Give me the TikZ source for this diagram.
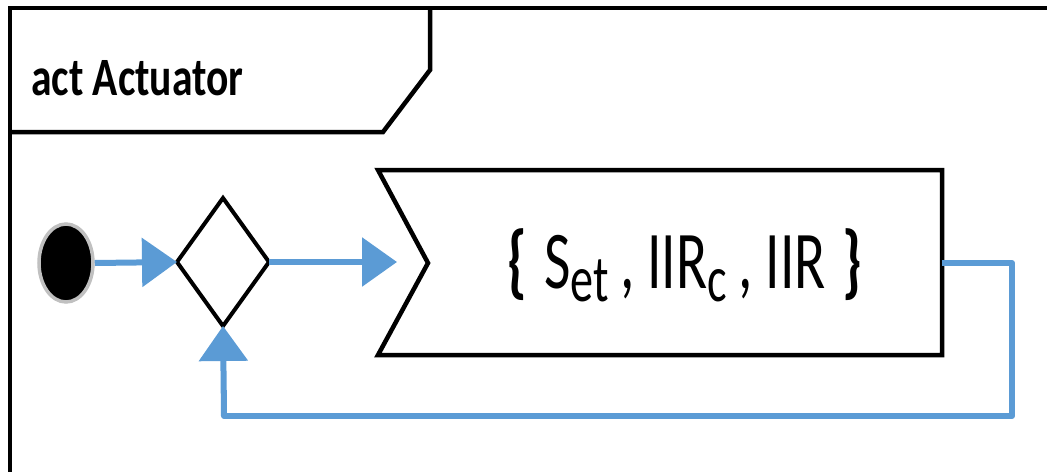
\documentclass[tikz,border=0pt]{standalone}
\usepackage{fontspec}
\setmainfont[FakeStretch=0.77]{Carlito}
\newfontfamily\labelfont[FakeStretch=0.70]{Carlito}
\usetikzlibrary{arrows.meta,shapes.geometric}
\definecolor{flowblue}{HTML}{5B9BD5}
\definecolor{ringgrey}{HTML}{C0C0C0}
\newcommand{\lowsub}[1]{\raisebox{-0.16em}{\fontsize{66}{66}\selectfont #1}}
\tikzset{
  framestroke/.style={draw=black, line width=4.5pt, line join=miter},
  flow/.style={draw=flowblue, line width=6pt, -{Triangle[length=35pt,width=48pt]}},
  flowplain/.style={draw=flowblue, line width=6pt, line join=round},
  decisionbox/.style={draw=black, line width=4pt, fill=white},
}
\begin{document}
\begin{tikzpicture}[x=1pt,y=1pt]
\useasboundingbox (0,0) rectangle (1047,-472);
% frame
\draw[framestroke] (1047,-8) -- (10,-8) -- (10,-472);
\draw[framestroke] (430,-8) -- (430,-70) -- (383,-132) -- (10,-132);
\node[anchor=base west, inner sep=0pt, font=\fontsize{54}{54}\selectfont\bfseries] (title) at (31,-95) {act Actuator};
% initial node
\node[draw=ringgrey, fill=black, line width=3.5pt, ellipse, minimum width=54pt, minimum height=78pt, inner sep=0pt] (init) at (66,-263) {};
% decision
\coordinate (dc) at (223,-262);
\coordinate (dW) at (177,-262);
\coordinate (dE) at (269,-262);
\coordinate (dN) at (223,-198);
\coordinate (dS) at (223,-326);
\draw[decisionbox] (dW) -- (dN) -- (dE) -- (dS) -- cycle;
\node[inner sep=0pt, minimum width=92pt, minimum height=128pt] (dec) at (dc) {};
% action (receive signal shape)
\draw[framestroke] (378,-170) -- (942,-170) -- (942,-355) -- (378,-355) -- (428,-263) -- cycle;
\node[inner sep=0pt, font=\fontsize{82}{82}\selectfont\labelfont] (act) at (685,-265) {\textbf{\{}\kern0.2em S\lowsub{et}\kern0.14em, IIR\lowsub{c}\kern0.14em, IIR\kern0.2em\textbf{\}}};
\coordinate (actE) at (942,-263);
\coordinate (actIn) at (397,-262);
\coordinate (c1) at (1012,-263);
\coordinate (c2) at (1012,-416);
\coordinate (c3) at (224,-416);
% connectors
\draw[flow] (init.east) -- (dW);
\draw[flow] (dE) -- (actIn);
\draw[flowplain] (actE) -- (c1) -- (c2) -- (c3) -- (224,-390);
\draw[flow] (c3) -- (dS);
\end{tikzpicture}
\end{document}
